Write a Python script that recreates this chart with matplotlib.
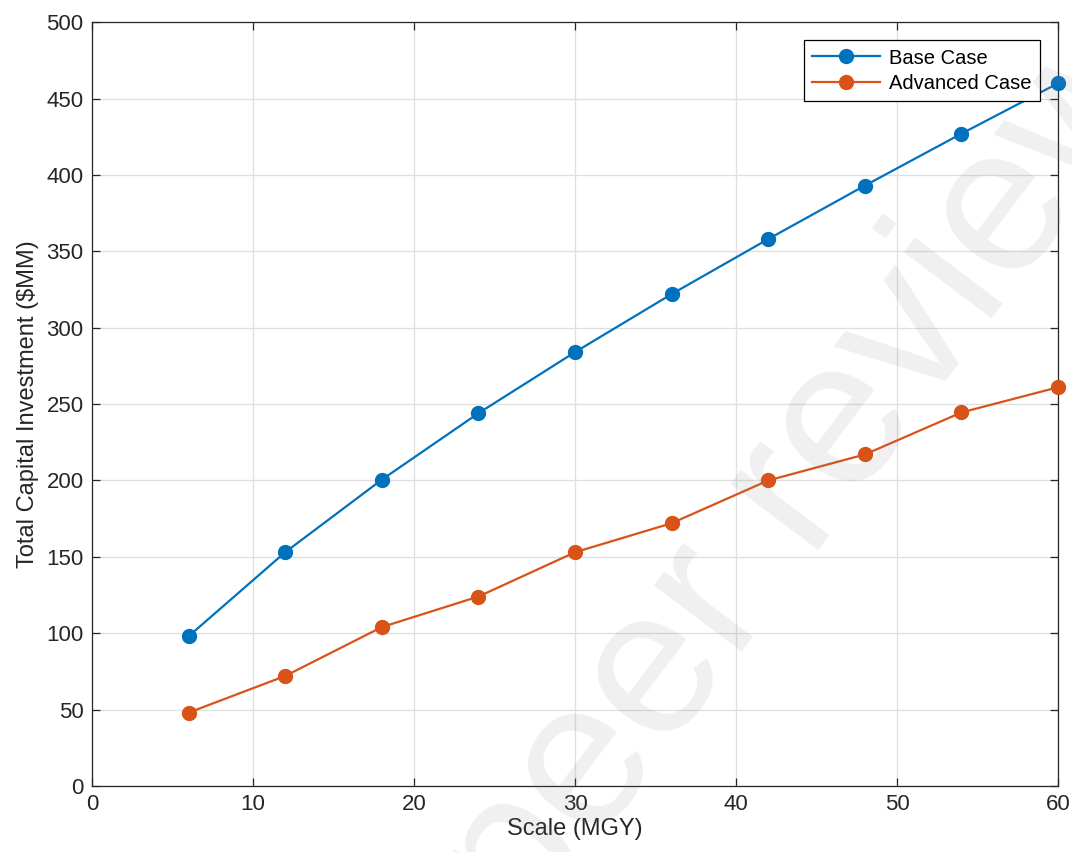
import matplotlib
matplotlib.use("Agg")
import matplotlib.pyplot as plt

# ── Data ────────────────────────────────────────────────────────────────────
scale_mgy = [6, 12, 18, 24, 30, 36, 42, 48, 54, 60]
base_case = [98, 153, 200.5, 244, 284, 322, 358, 393, 427, 460]
advanced_case = [48, 72, 104, 124, 153, 172, 200, 217, 244.5, 261]

BLUE = "#0072BD"
ORANGE = "#D95319"
AX_COL = "#262626"

plt.rcParams["font.family"] = ["Liberation Sans", "DejaVu Sans"]

fig = plt.figure(figsize=(10.72, 8.52), dpi=100)
ax = fig.add_axes([0.0858, 0.0775, 0.9012, 0.8965])

ax.plot(scale_mgy, base_case, "-o", color=BLUE, lw=1.6, ms=10, label="Base Case", clip_on=False, zorder=3)
ax.plot(scale_mgy, advanced_case, "-o", color=ORANGE, lw=1.6, ms=10, label="Advanced Case", clip_on=False, zorder=3)

ax.set_xlim(0, 60)
ax.set_ylim(0, 500)
ax.set_xticks(range(0, 61, 10))
ax.set_yticks(range(0, 501, 50))
ax.grid(True, color="#dfdfdf", lw=0.9)
ax.set_axisbelow(True)

ax.tick_params(direction="in", length=6, width=0.9, colors=AX_COL, labelsize=16,
               top=True, right=True, pad=6)
for sp in ax.spines.values():
    sp.set_color(AX_COL)
    sp.set_linewidth(0.9)

ax.set_xlabel("Scale (MGY)", fontsize=17, color=AX_COL, labelpad=2)
ax.set_ylabel("Total Capital Investment ($MM)", fontsize=17, color=AX_COL, labelpad=5)

leg = ax.legend(loc="upper right", bbox_to_anchor=(0.981, 0.976), borderaxespad=0,
                fontsize=14.5, frameon=True, fancybox=False, edgecolor="black", framealpha=1,
                handlelength=3.4, borderpad=0.4, labelspacing=0.3, handletextpad=0.45)
leg.get_frame().set_linewidth(0.9)

# watermark
fig.text(0.752, 0.44, "peer review", fontsize=150, rotation=53, color="0.5", alpha=0.12,
         ha="center", va="center", zorder=10)

fig.savefig("out.png", dpi=100)
